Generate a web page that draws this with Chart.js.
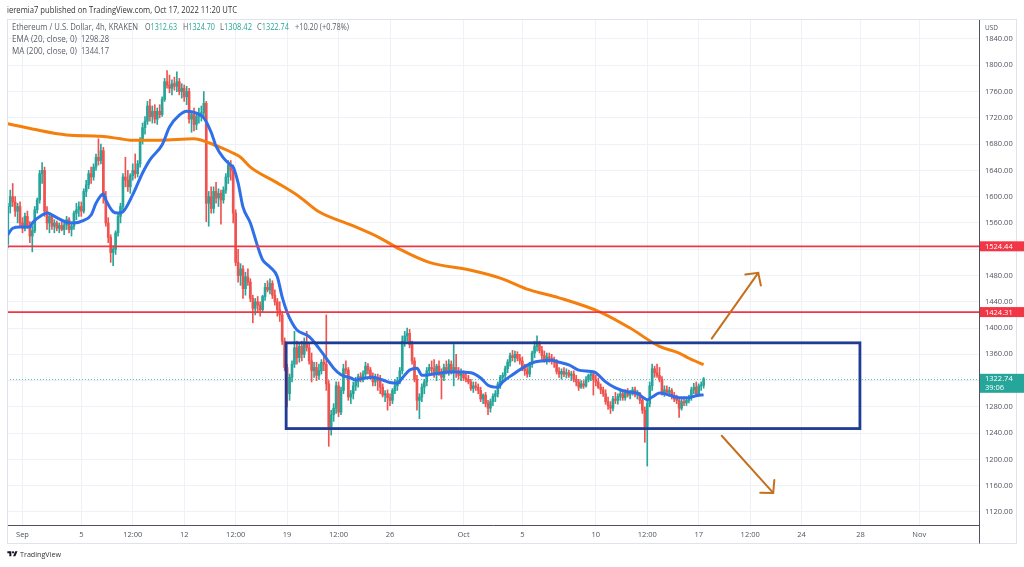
<!DOCTYPE html>
<html><head><meta charset="utf-8">
<script src="https://cdn.jsdelivr.net/npm/chart.js@4.4.0/dist/chart.umd.min.js"></script>
<style>
html,body{margin:0;padding:0;background:#fff;width:1024px;height:567px;overflow:hidden;font-family:"Open Sans",sans-serif;}
#wrap{position:relative;width:1024px;height:567px;}
canvas{position:absolute;left:0;top:0;}
.t{position:absolute;white-space:nowrap;line-height:1;transform-origin:0 0;}
.g{color:#26a69a}.b{color:#3b7bf0}.o{color:#f57f0c}
.lg{font-size:8.4px;color:#5d606b}
</style></head><body>
<div id="wrap">
<canvas id="c" width="1024" height="567"></canvas>
<div class="t" data-w="230" style="left:7px;top:5.5px;font-size:8.4px;color:#333">ieremia7 published on TradingView.com, Oct 17, 2022 11:20 UTC</div>
<div class="t lg" data-w="126" style="left:12px;top:22.5px">Ethereum / U.S. Dollar, 4h, KRAKEN</div>
<div class="t lg" data-w="32" style="left:145px;top:22.5px">O<span class="g">1312.63</span></div>
<div class="t lg" data-w="32" style="left:183px;top:22.5px">H<span class="g">1324.70</span></div>
<div class="t lg" data-w="32" style="left:220px;top:22.5px">L<span class="g">1308.42</span></div>
<div class="t lg" data-w="32" style="left:257px;top:22.5px">C<span class="g">1322.74</span></div>
<div class="t lg g" data-w="54" style="left:295px;top:22.5px">+10.20 (+0.78%)</div>
<div class="t lg" data-w="65" style="left:12px;top:34.5px">EMA (20, close, 0)</div>
<div class="t lg b" data-w="28" style="left:81px;top:34.5px">1298.28</div>
<div class="t lg" data-w="65" style="left:12px;top:46.5px">MA (200, close, 0)</div>
<div class="t lg o" data-w="28" style="left:81px;top:46.5px">1344.17</div>
<div class="t" data-w="13" style="left:985px;top:24px;font-size:7px;color:#50535e">USD</div>
<svg style="position:absolute;left:7px;top:550px" width="11" height="8" viewBox="0 0 36 28"><path d="M14 22H7V11H0V4h14v18zM28 22h-8l7.5-18h8L28 22z" fill="#131722"/><circle cx="20" cy="8" r="4" fill="#131722"/></svg>
<div class="t" data-w="41" style="left:20px;top:550px;font-size:8px;color:#333">TradingView</div>
</div>
<script>
// ---- data (4h candles, index 0 = Aug 31 00:00 UTC) ----
const ohlc = [
[1528,1590,1522,1585],[1585,1610,1575,1600],[1600,1620,1585,1592],[1592,1600,1570,1578],[1578,1590,1560,1585],[1585,1592,1555,1560],
[1560,1568,1545,1552],[1552,1575,1548,1570],[1570,1578,1552,1556],[1556,1562,1530,1540],[1540,1555,1516,1548],[1548,1585,1545,1580],
[1580,1598,1575,1595],[1595,1640,1590,1635],[1635,1652,1620,1640],[1640,1645,1570,1578],[1578,1585,1550,1560],[1560,1575,1545,1570],
[1570,1572,1550,1555],[1555,1565,1545,1560],[1560,1563,1548,1552],[1552,1560,1545,1556],[1556,1562,1548,1550],[1550,1560,1542,1557],
[1557,1570,1550,1565],[1565,1568,1545,1550],[1550,1560,1540,1555],[1555,1578,1550,1575],[1575,1590,1565,1580],[1580,1592,1570,1585],
[1585,1592,1570,1578],[1578,1612,1575,1608],[1608,1625,1600,1618],[1618,1640,1612,1635],[1635,1645,1620,1630],[1630,1650,1625,1645],
[1645,1665,1640,1660],[1660,1688,1648,1655],[1655,1680,1650,1670],[1670,1675,1590,1600],[1600,1608,1555,1560],[1560,1568,1530,1538],
[1538,1542,1500,1515],[1515,1525,1495,1520],[1520,1548,1512,1545],[1545,1575,1540,1570],[1570,1590,1560,1585],[1585,1635,1580,1630],
[1630,1660,1615,1625],[1625,1640,1608,1615],[1615,1635,1605,1632],[1632,1650,1625,1640],[1640,1665,1628,1635],[1635,1655,1630,1650],
[1650,1690,1645,1685],[1685,1712,1680,1705],[1705,1722,1695,1715],[1715,1745,1710,1738],[1738,1748,1715,1722],[1722,1738,1712,1730],
[1730,1740,1712,1718],[1718,1735,1710,1730],[1730,1740,1720,1725],[1725,1752,1722,1748],[1748,1780,1745,1775],[1775,1792,1765,1770],
[1770,1785,1758,1765],[1765,1778,1755,1772],[1772,1782,1762,1768],[1768,1790,1760,1775],[1775,1780,1755,1760],[1760,1772,1750,1765],
[1765,1770,1745,1752],[1752,1768,1740,1760],[1760,1765,1712,1718],[1718,1730,1698,1725],[1725,1735,1700,1710],[1710,1728,1702,1722],
[1722,1735,1712,1725],[1725,1738,1715,1728],[1728,1760,1720,1742],[1742,1745,1562,1590],[1590,1608,1555,1600],[1600,1615,1575,1582],
[1582,1615,1575,1608],[1608,1622,1590,1598],[1598,1612,1585,1605],[1605,1610,1558,1595],[1595,1615,1590,1610],[1610,1635,1605,1630],
[1630,1655,1620,1648],[1648,1655,1625,1640],[1640,1648,1560,1575],[1575,1580,1495,1500],[1500,1520,1470,1480],[1480,1498,1465,1490],
[1490,1495,1445,1460],[1460,1485,1450,1478],[1478,1490,1465,1470],[1470,1475,1440,1445],[1445,1450,1408,1430],[1430,1445,1420,1440],
[1440,1448,1425,1435],[1435,1440,1418,1428],[1428,1450,1425,1448],[1448,1468,1442,1462],[1462,1472,1455,1458],[1458,1475,1452,1468],
[1468,1472,1445,1450],[1450,1458,1435,1440],[1440,1445,1418,1428],[1428,1440,1410,1420],[1420,1425,1375,1380],[1380,1385,1335,1340],
[1340,1345,1280,1300],[1300,1330,1290,1325],[1325,1350,1318,1345],[1345,1395,1340,1370],[1370,1380,1345,1355],[1355,1378,1348,1372],
[1372,1380,1350,1360],[1360,1385,1355,1378],[1378,1395,1365,1370],[1370,1378,1345,1350],[1350,1362,1318,1335],[1335,1348,1325,1340],
[1340,1348,1320,1328],[1328,1345,1322,1335],[1335,1352,1330,1348],[1348,1358,1335,1345],[1345,1420,1305,1315],[1315,1320,1220,1250],
[1250,1275,1237,1268],[1268,1285,1258,1278],[1278,1318,1270,1312],[1312,1318,1265,1272],[1272,1310,1268,1305],[1305,1345,1300,1338],
[1338,1350,1330,1336],[1336,1340,1290,1295],[1295,1305,1285,1300],[1300,1318,1292,1312],[1312,1325,1305,1318],[1318,1330,1310,1326],
[1326,1332,1318,1322],[1322,1335,1318,1330],[1330,1348,1325,1342],[1342,1346,1330,1336],[1336,1340,1322,1326],[1326,1332,1312,1318],
[1318,1330,1312,1325],[1325,1330,1305,1320],[1320,1328,1300,1310],[1310,1315,1295,1298],[1298,1305,1288,1300],[1300,1306,1275,1294],
[1294,1300,1282,1290],[1290,1308,1285,1305],[1305,1322,1300,1312],[1312,1325,1305,1320],[1320,1340,1315,1335],[1335,1388,1330,1380],
[1380,1395,1372,1388],[1388,1400,1380,1392],[1392,1398,1370,1375],[1375,1380,1345,1350],[1350,1355,1318,1322],[1322,1328,1275,1290],
[1290,1300,1262,1295],[1295,1315,1288,1310],[1310,1322,1300,1318],[1318,1340,1312,1335],[1335,1345,1328,1340],[1340,1350,1332,1338],
[1338,1352,1325,1330],[1330,1345,1320,1342],[1342,1350,1328,1332],[1332,1338,1292,1325],[1325,1345,1320,1340],[1340,1350,1330,1335],
[1335,1352,1328,1345],[1345,1350,1330,1335],[1335,1375,1312,1340],[1340,1360,1325,1332],[1332,1340,1322,1328],[1328,1338,1320,1330],
[1330,1335,1320,1324],[1324,1332,1318,1322],[1322,1328,1315,1318],[1318,1322,1305,1308],[1308,1318,1302,1312],[1312,1318,1305,1310],
[1310,1315,1300,1305],[1305,1310,1288,1292],[1292,1300,1285,1298],[1298,1302,1280,1285],[1285,1290,1268,1278],[1278,1292,1272,1288],
[1288,1300,1282,1296],[1296,1305,1288,1300],[1300,1318,1295,1315],[1315,1328,1308,1325],[1325,1332,1318,1328],[1328,1342,1322,1338],
[1338,1352,1332,1348],[1348,1362,1342,1358],[1358,1366,1350,1355],[1355,1365,1348,1360],[1360,1364,1350,1354],[1354,1360,1345,1350],
[1350,1356,1335,1338],[1338,1345,1328,1335],[1335,1340,1325,1330],[1330,1348,1326,1345],[1345,1365,1340,1362],[1362,1380,1355,1372],
[1372,1388,1365,1375],[1375,1380,1362,1366],[1366,1372,1352,1358],[1358,1365,1348,1352],[1352,1362,1345,1356],[1356,1362,1348,1354],
[1354,1360,1345,1350],[1350,1356,1340,1348],[1348,1352,1330,1334],[1334,1340,1325,1330],[1330,1338,1322,1334],[1334,1340,1326,1330],
[1330,1338,1324,1332],[1332,1336,1325,1328],[1328,1334,1320,1330],[1330,1335,1318,1322],[1322,1328,1312,1318],[1318,1322,1305,1310],
[1310,1320,1308,1315],[1315,1320,1308,1312],[1312,1326,1310,1322],[1322,1330,1318,1328],[1328,1334,1320,1330],[1330,1334,1298,1322],
[1322,1328,1312,1318],[1318,1324,1308,1310],[1310,1315,1300,1306],[1306,1310,1296,1300],[1300,1306,1284,1288],[1288,1295,1276,1282],
[1282,1288,1270,1278],[1278,1296,1274,1292],[1292,1302,1285,1290],[1290,1300,1284,1296],[1296,1304,1290,1300],[1300,1305,1290,1294],
[1294,1306,1290,1302],[1302,1308,1295,1298],[1298,1305,1292,1302],[1302,1310,1298,1306],[1306,1310,1295,1298],[1298,1305,1292,1300],
[1300,1302,1285,1290],[1290,1295,1270,1275],[1275,1280,1226,1250],[1250,1290,1190,1285],[1285,1318,1280,1312],[1312,1345,1305,1338],
[1338,1342,1325,1332],[1332,1345,1325,1328],[1328,1340,1318,1322],[1322,1326,1298,1302],[1302,1312,1296,1306],[1306,1312,1298,1302],
[1302,1310,1296,1305],[1305,1308,1292,1296],[1296,1302,1288,1292],[1292,1298,1285,1290],[1290,1294,1264,1278],[1278,1292,1275,1288],
[1288,1295,1282,1286],[1286,1294,1282,1290],[1290,1298,1286,1294],[1294,1310,1290,1306],[1306,1316,1300,1310],[1310,1318,1296,1300],
[1300,1315,1296,1312],[1312,1318,1305,1312.63],[1312.63,1324.70,1308.42,1322.74]
];
const emaIdx = [0,2,5,9,10,14,16,20,24,27,31,34,36,39,40,43,45,47,51,55,58,63,66,70,73,77,80,83,85,88,91,92,94,96,99,102,104,107,110,112,114,116,118,123,127,130,133,136,140,142,146,149,153,156,159,161,164,167,169,172,176,180,184,189,193,196,200,202,206,210,214,218,222,225,229,233,238,240,244,248,253,257,259,261,263,266,270,274,278,281,284];
const emaVal = [1542,1552,1554,1554,1560,1572,1575,1568,1561,1560,1564,1572,1590,1604,1595,1577,1575,1577,1603,1636,1656,1679,1706,1724,1730,1727,1720,1698,1677,1659,1648,1645,1621,1584,1560,1524,1504,1493,1478,1447,1424,1408,1397,1387,1369,1354,1339,1329,1324,1321,1324,1325,1321,1317,1316,1324,1336,1339,1328,1329,1331,1333,1333,1332,1324,1313,1310,1318,1329,1339,1347,1350,1351,1348,1344,1336,1334,1332,1318,1309,1303,1301,1295,1291,1295,1301,1298,1294,1294,1297,1298.28];
const maIdx = [0,10,24,38,46,50,62,76,82,88,91,95,99,110,119,127,140,152,160,172,189,201,213,225,242,254,266,274,278,284];
const maVal = [1711,1703,1694,1692,1688,1686,1686,1688,1682,1673,1668,1660,1645,1621,1600,1577,1557,1537,1520,1500,1488,1476,1458,1446,1424,1400,1372,1362,1354,1344.17];
const xTickIdx = [6,30,51,72,93,114,135,156,186,210,240,261,282,303,324,348,372];
const xTickLabels = ['Sep','5','12:00','12','12:00','19','12:00','26','Oct','5','10','12:00','17','12:00','24','28','Nov'];
const yTicks = [1120,1160,1200,1240,1280,1320,1360,1400,1440,1480,1520,1560,1600,1640,1680,1720,1760,1800,1840];
const levelPrices = [1524.44, 1424.31];
const lastPrice = 1322.74;
const countdown = '39:06';
const boxIdx = [113.6, 347.8];
const boxPrice = [1247, 1377.5];
const arrowsUp = [287.3, 1384, 306.3, 1484];
const arrowsDown = [291.4, 1236, 312.4, 1149];

// ---- style ----
const UP = '#26a69a', DN = '#ef5350';
const FONT = '"Open Sans", sans-serif';

document.querySelectorAll('.t[data-w]').forEach(el => {
  const w = el.getBoundingClientRect().width;
  el.style.transform = 'scaleX(' + (parseFloat(el.dataset.w) / w) + ')';
});

const cols = ohlc.map(r => r[3] >= r[0] ? UP : DN);
const wicks = ohlc.map((r, i) => ({x: i, y: [r[2], r[1]]}));
const bodies = ohlc.map((r, i) => ({x: i, y: [Math.min(r[0], r[3]), Math.max(r[0], r[3])]}));
const labelPrices = levelPrices.concat([lastPrice]);

const tvPlugin = {
  id: 'tv',
  beforeDatasetsDraw(chart) {
    const {ctx, chartArea: a, scales: {y}} = chart;
    ctx.save();
    const yy = Math.round(y.getPixelForValue(lastPrice)) + 0.5;
    ctx.strokeStyle = 'rgba(38,166,154,0.7)';
    ctx.setLineDash([1, 2]); ctx.lineWidth = 1;
    ctx.beginPath(); ctx.moveTo(a.left, yy); ctx.lineTo(a.right, yy); ctx.stroke();
    ctx.restore();
  },
  afterDatasetsDraw(chart) {
    const {ctx, chartArea: a, scales: {x, y}} = chart;
    ctx.save();
    ctx.beginPath(); ctx.rect(a.left, a.top, a.right - a.left, a.bottom - a.top); ctx.clip();
    ctx.strokeStyle = '#f23645'; ctx.lineWidth = 1.8;
    levelPrices.forEach(p => {
      const yy = y.getPixelForValue(p);
      ctx.beginPath(); ctx.moveTo(a.left, yy); ctx.lineTo(a.right, yy); ctx.stroke();
    });
    const x1 = x.getPixelForValue(boxIdx[0]), x2 = x.getPixelForValue(boxIdx[1]);
    const y1 = y.getPixelForValue(boxPrice[1]), y2 = y.getPixelForValue(boxPrice[0]);
    ctx.strokeStyle = '#1f3c95'; ctx.lineWidth = 2.8;
    ctx.strokeRect(x1, y1, x2 - x1, y2 - y1);
    ctx.strokeStyle = '#c4701e'; ctx.lineWidth = 2; ctx.lineCap = 'round';
    [arrowsUp, arrowsDown].forEach(ar => {
      const sx = x.getPixelForValue(ar[0]), sy = y.getPixelForValue(ar[1]);
      const ex = x.getPixelForValue(ar[2]), ey = y.getPixelForValue(ar[3]);
      const ang = Math.atan2(sy - ey, sx - ex);
      ctx.beginPath(); ctx.moveTo(sx, sy); ctx.lineTo(ex, ey); ctx.stroke();
      const L = 13, d = 47 * Math.PI / 180;
      ctx.beginPath();
      ctx.moveTo(ex + L * Math.cos(ang + d), ey + L * Math.sin(ang + d));
      ctx.lineTo(ex, ey);
      ctx.lineTo(ex + L * Math.cos(ang - d), ey + L * Math.sin(ang - d));
      ctx.stroke();
    });
    ctx.restore();
  },
  afterDraw(chart) {
    const {ctx, chartArea: a, scales: {y}} = chart;
    ctx.save();
    ctx.strokeStyle = '#e0e3eb'; ctx.lineWidth = 1;
    ctx.strokeRect(7.5, 19.5, 1009, 524);
    ctx.strokeStyle = '#50535e';
    ctx.beginPath(); ctx.moveTo(a.right + 0.5, a.bottom); ctx.lineTo(a.right + 0.5, 543.5); ctx.stroke();
    ctx.font = '7.5px ' + FONT; ctx.textBaseline = 'middle'; ctx.textAlign = 'left';
    levelPrices.forEach(p => {
      const yy = y.getPixelForValue(p);
      ctx.fillStyle = '#f23645';
      ctx.fillRect(a.right + 1, yy - 5, 45, 10);
      ctx.fillStyle = '#fff';
      ctx.fillText(p.toFixed(2), a.right + 6, yy + 0.5);
    });
    const yy = y.getPixelForValue(lastPrice);
    ctx.fillStyle = UP;
    ctx.fillRect(a.right + 1, yy - 5, 45, 19);
    ctx.fillStyle = '#fff';
    ctx.fillText(lastPrice.toFixed(2), a.right + 6, yy + 0.5);
    ctx.fillText(countdown, a.right + 6, yy + 9.5);
    ctx.restore();
  }
};

new Chart(document.getElementById('c'), {
  type: 'bar',
  data: {
    datasets: [
      {type: 'line', data: emaIdx.map((v, k) => ({x: v, y: emaVal[k]})), borderColor: '#2f6fea', borderWidth: 3, pointRadius: 0, cubicInterpolationMode: 'monotone', order: 0},
      {type: 'line', data: maIdx.map((v, k) => ({x: v, y: maVal[k]})), borderColor: '#f57f0c', borderWidth: 3, pointRadius: 0, cubicInterpolationMode: 'monotone', order: 1},
      {data: wicks, backgroundColor: cols, barThickness: 1, grouped: false, order: 3},
      {data: bodies, backgroundColor: cols, barThickness: 2, minBarLength: 1, grouped: false, order: 2}
    ]
  },
  options: {
    responsive: false, animation: false, events: [],
    layout: {padding: {left: 7, top: 19, right: 0, bottom: 0}},
    plugins: {legend: {display: false}, tooltip: {enabled: false}},
    scales: {
      x: {
        type: 'linear', min: -0.327, max: 396.4, offset: false,
        grid: {color: '#eef1f6', drawTicks: false, offset: false},
        border: {display: true, color: '#50535e'},
        afterBuildTicks: s => { s.ticks = xTickIdx.map(v => ({value: v})); },
        afterFit: s => { s.height = 42; },
        ticks: {autoSkip: false, maxRotation: 0, padding: 5, color: '#50535e', font: {size: 7.5, family: FONT}, callback: (v, i) => xTickLabels[i]}
      },
      y: {
        position: 'right', min: 1100.21, max: 1870.44,
        grid: {color: '#eef1f6', drawTicks: false},
        border: {display: true, color: '#50535e'},
        afterBuildTicks: s => { s.ticks = yTicks.map(v => ({value: v})); },
        afterFit: s => { s.width = 45; },
        ticks: {padding: 6, color: '#50535e', font: {size: 7.5, family: FONT},
          callback: v => labelPrices.some(p => Math.abs(p - v) < 10) ? '' : v.toFixed(2)}
      }
    }
  },
  plugins: [tvPlugin]
});
</script>
</body></html>
